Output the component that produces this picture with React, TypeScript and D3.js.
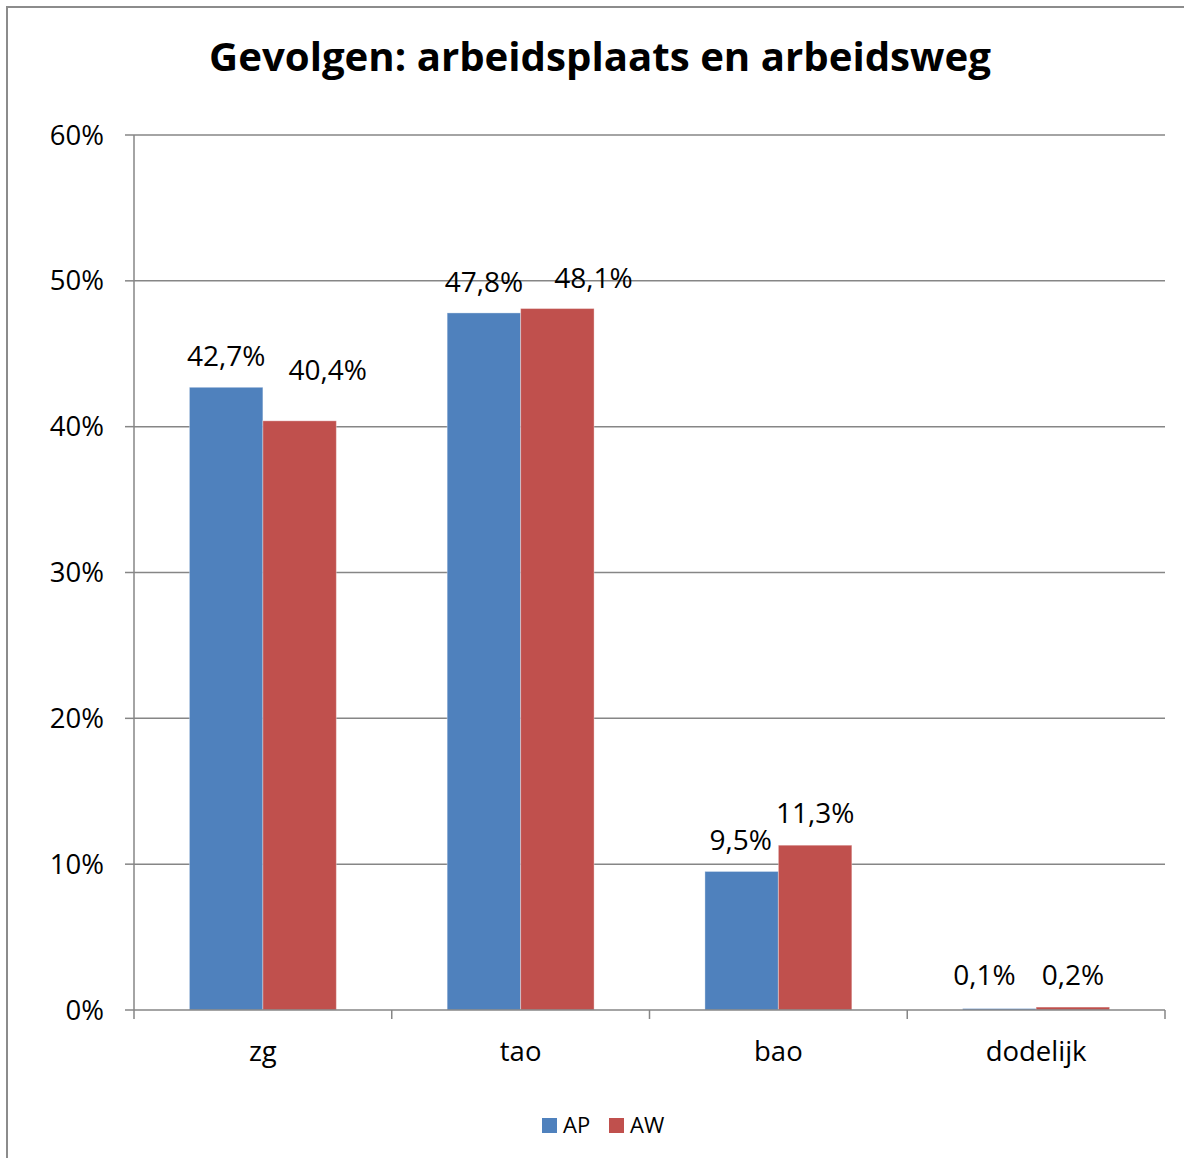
import React from "react";
import * as d3 from "d3";

const categories = ["zg", "tao", "bao", "dodelijk"];
const series = ["AP", "AW"];
const apValues = [42.7, 47.8, 9.5, 0.1];
const awValues = [40.4, 48.1, 11.3, 0.2];
const apLabels = ["42,7%", "47,8%", "9,5%", "0,1%"];
const awLabels = ["40,4%", "48,1%", "11,3%", "0,2%"];
const yTicks = [0, 10, 20, 30, 40, 50, 60];
const colors = ["#4F81BD", "#C0504D"];
const title = "Gevolgen: arbeidsplaats en arbeidsweg";

// manual label nudges (layout only), [dx, dy] per series/category
const apNudge = [[0, 0], [0, 0], [-1, 0], [-15, -3]];
const awNudge = [[28, -20], [36, 0], [0, -1], [0, -1]];

const W = 1184;
const H = 1158;
const plot = { left: 134, right: 1165, top: 135, bottom: 1010 };
const font = "'Open Sans', sans-serif";
const gray = "#868686";

export default function App() {
  const x = d3.scaleBand<string>().domain(categories).range([plot.left, plot.right]).padding(0);
  const bw = x.bandwidth();
  const gap = bw * 0.215;
  const xs = d3.scaleBand<string>().domain(series).range([gap, bw - gap]).padding(0);
  const y = d3.scaleLinear().domain([0, 60]).range([plot.bottom, plot.top]);
  const values = [apValues, awValues];
  const labels = [apLabels, awLabels];
  const nudges = [apNudge, awNudge];
  const boundaries = categories.map((c) => x(c) as number).concat([plot.right]);

  return (
    <div style={{ position: "absolute", left: 0, top: 0 }}>
      <svg width={W} height={H} style={{ display: "block" }}>
        <rect x={0} y={0} width={W} height={H} fill="#fff" />
        <rect x={7} y={7} width={1300} height={1300} fill="none" stroke="#8c8c8c" strokeWidth={2} />
        <text x={600} y={71} textAnchor="middle" fontFamily={font} fontWeight={700} fontSize={40.2} fill="#000">
          {title}
        </text>
        {yTicks.map((t) => (
          <g key={t}>
            {t > 0 && (
              <line x1={plot.left} x2={plot.right} y1={y(t)} y2={y(t)} stroke={gray} strokeWidth={1.5} />
            )}
            <line x1={plot.left - 9} x2={plot.left} y1={y(t)} y2={y(t)} stroke={gray} strokeWidth={1.5} />
            <text x={104} y={y(t) + 9.5} textAnchor="end" fontFamily={font} fontSize={27.5} fill="#000">
              {t + "%"}
            </text>
          </g>
        ))}
        <line x1={plot.left} x2={plot.left} y1={plot.top} y2={plot.bottom} stroke={gray} strokeWidth={1.5} />
        {series.map((s, si) =>
          categories.map((c, ci) => {
            const bx = (x(c) as number) + (xs(s) as number);
            const v = values[si][ci];
            return (
              <g key={s + c}>
                <rect
                  x={bx}
                  y={y(v)}
                  width={xs.bandwidth()}
                  height={plot.bottom - y(v)}
                  fill={colors[si]}
                  stroke="rgba(255,255,255,0.35)"
                  strokeWidth={1}
                />
              </g>
            );
          })
        )}
        {series.map((s, si) =>
          categories.map((c, ci) => {
            const bx = (x(c) as number) + (xs(s) as number);
            const v = values[si][ci];
            const [dx, dy] = nudges[si][ci];
            return (
              <text
                key={"l" + s + c}
                x={bx + xs.bandwidth() / 2 + dx}
                y={y(v) - 21 + dy}
                textAnchor="middle"
                fontFamily={font}
                fontSize={28}
                fill="#000"
              >
                {labels[si][ci]}
              </text>
            );
          })
        )}
        <line x1={plot.left} x2={plot.right} y1={plot.bottom} y2={plot.bottom} stroke={gray} strokeWidth={1.5} />
        {boundaries.map((b, i) => (
          <line key={i} x1={b} x2={b} y1={plot.bottom} y2={plot.bottom + 9} stroke={gray} strokeWidth={1.5} />
        ))}
        {categories.map((c) => (
          <text
            key={c}
            x={(x(c) as number) + bw / 2}
            y={1061}
            textAnchor="middle"
            fontFamily={font}
            fontSize={27.5}
            fill="#000"
          >
            {c}
          </text>
        ))}
        {series.map((s, si) => {
          const lx = si === 0 ? 542 : 609;
          return (
            <g key={s}>
              <rect x={lx} y={1118} width={15} height={15} fill={colors[si]} />
              <text x={lx + 21} y={1133} fontFamily={font} fontSize={22} fill="#000">
                {s}
              </text>
            </g>
          );
        })}
      </svg>
    </div>
  );
}
